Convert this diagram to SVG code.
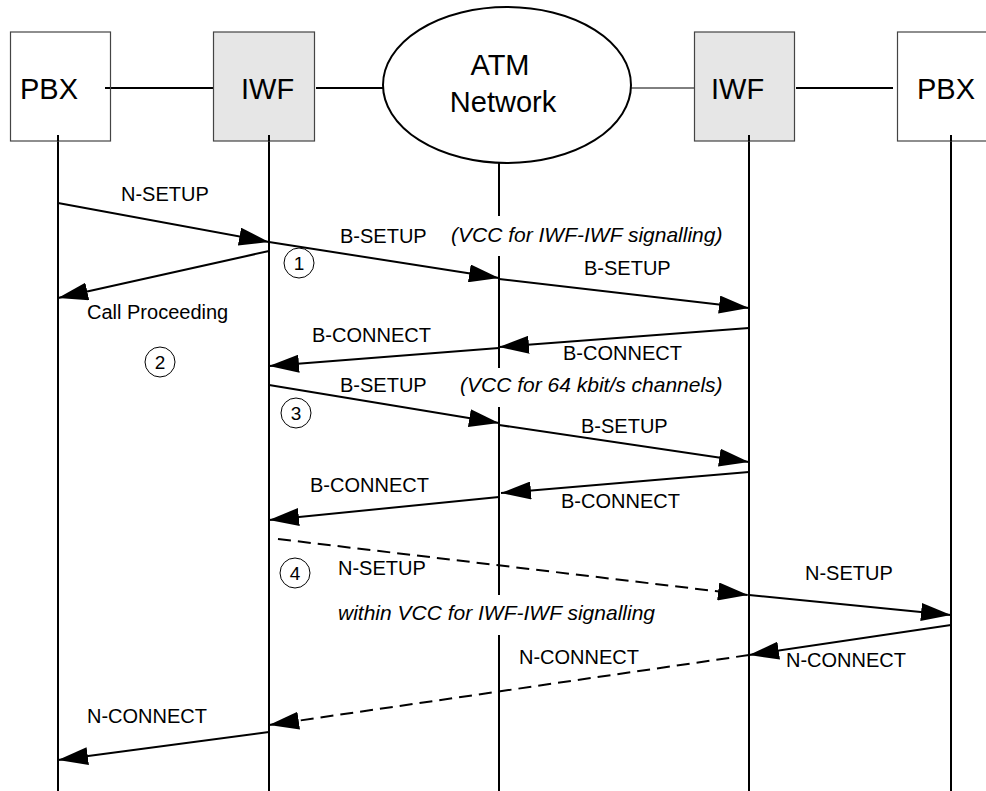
<svg xmlns="http://www.w3.org/2000/svg" width="986" height="791" viewBox="0 0 986 791">
<style>
text{font-family:"Liberation Sans",Arial,sans-serif;fill:#000}
.big{font-size:29px}
.lbl{font-size:20px}
.it{font-size:21px;font-style:italic}
.num{font-size:19px;text-anchor:middle}
.box{stroke:#444;stroke-width:1.2}
.life{stroke:#000;stroke-width:2;fill:none}
.msg{stroke:#000;stroke-width:2;fill:none;marker-end:url(#ah)}
.dash{stroke-dasharray:13 7}
.circ{fill:none;stroke:#000;stroke-width:1}
</style>
<defs>
<marker id="ah" viewBox="0 0 30 18" refX="30" refY="9" markerWidth="30" markerHeight="18" markerUnits="userSpaceOnUse" orient="auto">
<path d="M0,0 L30,9 L0,18 z" fill="#000"/>
</marker>
</defs>
<rect width="986" height="791" fill="#fff"/>
<g id="lifelines">
<line class="life" x1="58" y1="135" x2="58" y2="791"/>
<line class="life" x1="269" y1="135" x2="269" y2="791"/>
<line class="life" x1="499" y1="163" x2="499" y2="216"/>
<line class="life" x1="499" y1="256" x2="499" y2="368"/>
<line class="life" x1="499" y1="407" x2="499" y2="595"/>
<line class="life" x1="499" y1="635" x2="499" y2="791"/>
<line class="life" x1="749" y1="135" x2="749" y2="791"/>
<line class="life" x1="951" y1="135" x2="951" y2="791"/>
</g>
<g id="links">
<line class="life" x1="105" y1="88" x2="213" y2="88"/>
<line class="life" x1="316" y1="88" x2="384" y2="88"/>
<line stroke="#000" stroke-width="1" x1="631" y1="88" x2="694" y2="88"/>
<line class="life" x1="796" y1="88" x2="893" y2="88"/>
</g>
<g id="pbx-left">
<rect class="box" x="10.5" y="32" width="100" height="109" fill="#fff"/>
<line class="life" x1="58" y1="135" x2="58" y2="141"/>
<line class="life" x1="105" y1="88" x2="110" y2="88"/>
<text class="big" x="20" y="99">PBX</text>
</g>
<g id="iwf-left">
<rect class="box" x="213.5" y="32" width="101" height="109" fill="#e6e6e6"/>
<line class="life" x1="269" y1="135" x2="269" y2="141"/>
<text class="big" x="241" y="99">IWF</text>
</g>
<g id="atm">
<ellipse cx="507" cy="85" rx="124" ry="78" fill="#fff" stroke="#000" stroke-width="2"/>
<text class="big" x="500" y="75" text-anchor="middle">ATM</text>
<text class="big" x="503" y="112" text-anchor="middle">Network</text>
</g>
<g id="iwf-right">
<rect class="box" x="694.5" y="32" width="100" height="109" fill="#e6e6e6"/>
<line class="life" x1="749" y1="135" x2="749" y2="141"/>
<text class="big" x="711" y="99">IWF</text>
</g>
<g id="pbx-right">
<rect class="box" x="897.5" y="32" width="100" height="109" fill="#fff"/>
<line class="life" x1="951" y1="135" x2="951" y2="141"/>
<text class="big" x="917" y="99">PBX</text>
</g>
<g id="connectors">
<line class="msg" x1="58" y1="203" x2="269" y2="242"/>
<line class="msg" x1="269" y1="251" x2="58" y2="298"/>
<line class="msg" x1="269" y1="242" x2="499" y2="278"/>
<line class="msg" x1="499" y1="279" x2="749" y2="308"/>
<line class="msg" x1="749" y1="328" x2="499" y2="347"/>
<line class="msg" x1="499" y1="348" x2="269" y2="366"/>
<line class="msg" x1="269" y1="385" x2="499" y2="423"/>
<line class="msg" x1="499" y1="425" x2="749" y2="462"/>
<line class="msg" x1="749" y1="472" x2="501" y2="493"/>
<line class="msg" x1="499" y1="497" x2="269" y2="520"/>
<line class="msg dash" x1="278" y1="539" x2="748" y2="595"/>
<line class="msg" x1="749" y1="595" x2="951" y2="615"/>
<line class="msg" x1="951" y1="625" x2="749" y2="655"/>
<line class="msg dash" x1="749" y1="655" x2="269" y2="725"/>
<line class="msg" x1="269" y1="732" x2="58" y2="760"/>
</g>
<g id="labels">
<text class="lbl" x="121" y="201">N-SETUP</text>
<text class="lbl" x="87" y="319">Call Proceeding</text>
<text class="lbl" x="340" y="243">B-SETUP</text>
<text class="it" x="451" y="242">(VCC for IWF-IWF signalling)</text>
<text class="lbl" x="584" y="275">B-SETUP</text>
<text class="lbl" x="563" y="360">B-CONNECT</text>
<text class="lbl" x="312" y="342">B-CONNECT</text>
<text class="lbl" x="340" y="392">B-SETUP</text>
<text class="it" x="460" y="392">(VCC for 64 kbit/s channels)</text>
<text class="lbl" x="581" y="433">B-SETUP</text>
<text class="lbl" x="561" y="508">B-CONNECT</text>
<text class="lbl" x="310" y="492">B-CONNECT</text>
<text class="lbl" x="338" y="575">N-SETUP</text>
<text class="lbl" x="805" y="580">N-SETUP</text>
<text class="it" x="338" y="620">within VCC for IWF-IWF signalling</text>
<text class="lbl" x="786" y="667">N-CONNECT</text>
<text class="lbl" x="519" y="664">N-CONNECT</text>
<text class="lbl" x="87" y="723">N-CONNECT</text>
</g>
<g id="steps">
<circle class="circ" cx="299" cy="263" r="15"/><text class="num" x="299" y="270">1</text>
<circle class="circ" cx="160" cy="362" r="15"/><text class="num" x="160" y="369">2</text>
<circle class="circ" cx="296" cy="413" r="15"/><text class="num" x="296" y="420">3</text>
<circle class="circ" cx="295" cy="573" r="15"/><text class="num" x="295" y="580">4</text>
</g>
</svg>
